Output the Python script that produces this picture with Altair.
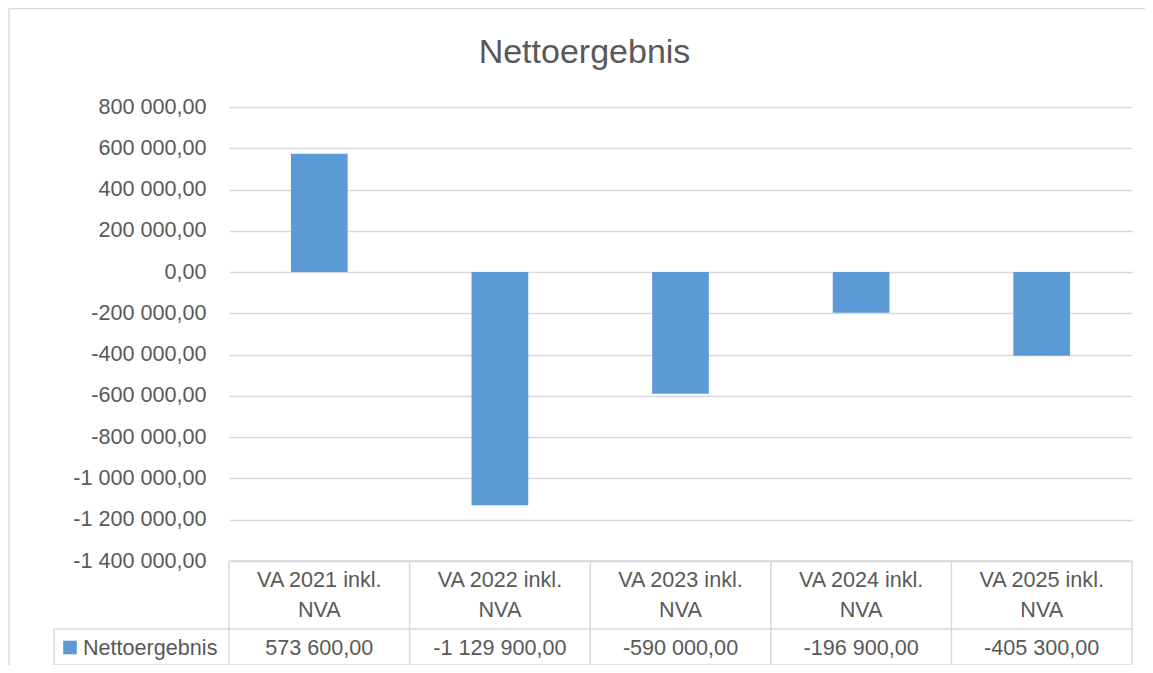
import altair as alt
import pandas as pd

# ---- data ----
categories = ["VA 2021 inkl. NVA", "VA 2022 inkl. NVA", "VA 2023 inkl. NVA",
              "VA 2024 inkl. NVA", "VA 2025 inkl. NVA"]
values = [573600, -1129900, -590000, -196900, -405300]
series_name = "Nettoergebnis"
chart_title = "Nettoergebnis"
y_ticks = [-1400000, -1200000, -1000000, -800000, -600000, -400000, -200000,
           0, 200000, 400000, 600000, 800000]

df = pd.DataFrame({
    "category": categories,
    "value": values,
    "header": [c.replace(" inkl. ", " inkl.\n") for c in categories],
})
one = pd.DataFrame({"name": [series_name]})

# ---- style ----
W, H = 903, 454
FONT = "Liberation Sans"
TXT = "#595959"
GRID = "#D9D9D9"
BLUE = "#5B9BD5"
FS = 21.6
ROW1 = 522   # row divider of the data table (plot coords)
BOT = 558    # bottom line of the data table
LEFT = -175  # left edge of legend cell

def xband(pad_inner, pad_outer, **kw):
    return alt.X("category:N", sort=categories, axis=None,
                 scale=alt.Scale(paddingInner=pad_inner, paddingOuter=pad_outer), **kw)

def hline(x0, x1, y, color=GRID, w=1.5):
    return alt.Chart(one).mark_rule(color=color, strokeWidth=w).encode(
        x=alt.value(x0), x2=alt.value(x1), y=alt.value(y))

def vline(x, y0, y1, color=GRID, w=1.5):
    return alt.Chart(one).mark_rule(color=color, strokeWidth=w).encode(
        x=alt.value(x), y=alt.value(y0), y2=alt.value(y1))

# outer chart frame (only left and top edges are inside the picture)
frame_left = vline(-220, -98.5, H + 110)
frame_top = hline(-220, W + 13, -98.5)

bars = alt.Chart(df).mark_bar(color=BLUE).encode(
    x=xband(0.686, 0.343),
    y=alt.Y("value:Q",
            scale=alt.Scale(domain=[-1400000, 800000], nice=False),
            axis=alt.Axis(values=y_ticks, format=",.2f", title=None, grid=True,
                          gridColor=GRID, gridWidth=1.3, domain=False, ticks=False,
                          labelPadding=23, labelFont=FONT, labelFontSize=FS,
                          labelColor=TXT)),
)

header = alt.Chart(df).mark_text(font=FONT, fontSize=FS, color=TXT, lineBreak="\n",
                                 lineHeight=30.5, baseline="middle", align="center").encode(
    x=xband(0, 0), y=alt.value(473.5), text="header:N")

vals = alt.Chart(df).mark_text(font=FONT, fontSize=FS, color=TXT,
                               baseline="middle", align="center").encode(
    x=xband(0, 0), y=alt.value(541.5), text=alt.Text("value:Q", format=",.2f"))

vrules = alt.Chart(df).mark_rule(color=GRID, strokeWidth=1.5).encode(
    x=xband(0, 0, bandPosition=0), y=alt.value(H), y2=alt.value(BOT))

legend_sq = alt.Chart(one).mark_square(color=BLUE, size=185, opacity=1).encode(
    x=alt.value(-159), y=alt.value(540.5))
legend_txt = alt.Chart(one).mark_text(font=FONT, fontSize=FS, color=TXT,
                                      align="left", baseline="middle").encode(
    x=alt.value(-146), y=alt.value(541.5), text="name:N")

locale = {"number": {"decimal": ",", "thousands": " ", "grouping": [3],
                     "currency": ["", " €"], "minus": "-"}}

chart = alt.layer(
    frame_left, frame_top, bars,
    hline(0, W, H), hline(LEFT, W, ROW1), hline(LEFT, W, BOT),
    vrules, vline(W, H, BOT), vline(LEFT, ROW1, BOT),
    header, vals, legend_sq, legend_txt,
).resolve_scale(x="independent").properties(
    width=W, height=H,
    autosize=alt.AutoSizeParams(type="none"),
    padding={"left": 221, "top": 99, "right": 13, "bottom": 104},
    background="white",
    title=alt.Title(text=chart_title, font=FONT, fontSize=34, fontWeight="normal",
                    color=TXT, anchor="middle", frame="group", dx=-96,
                    baseline="middle", offset=-79),
).configure(locale=locale).configure_view(stroke="transparent")

chart.save("out.html", embed_options={"renderer": "svg", "actions": False})
